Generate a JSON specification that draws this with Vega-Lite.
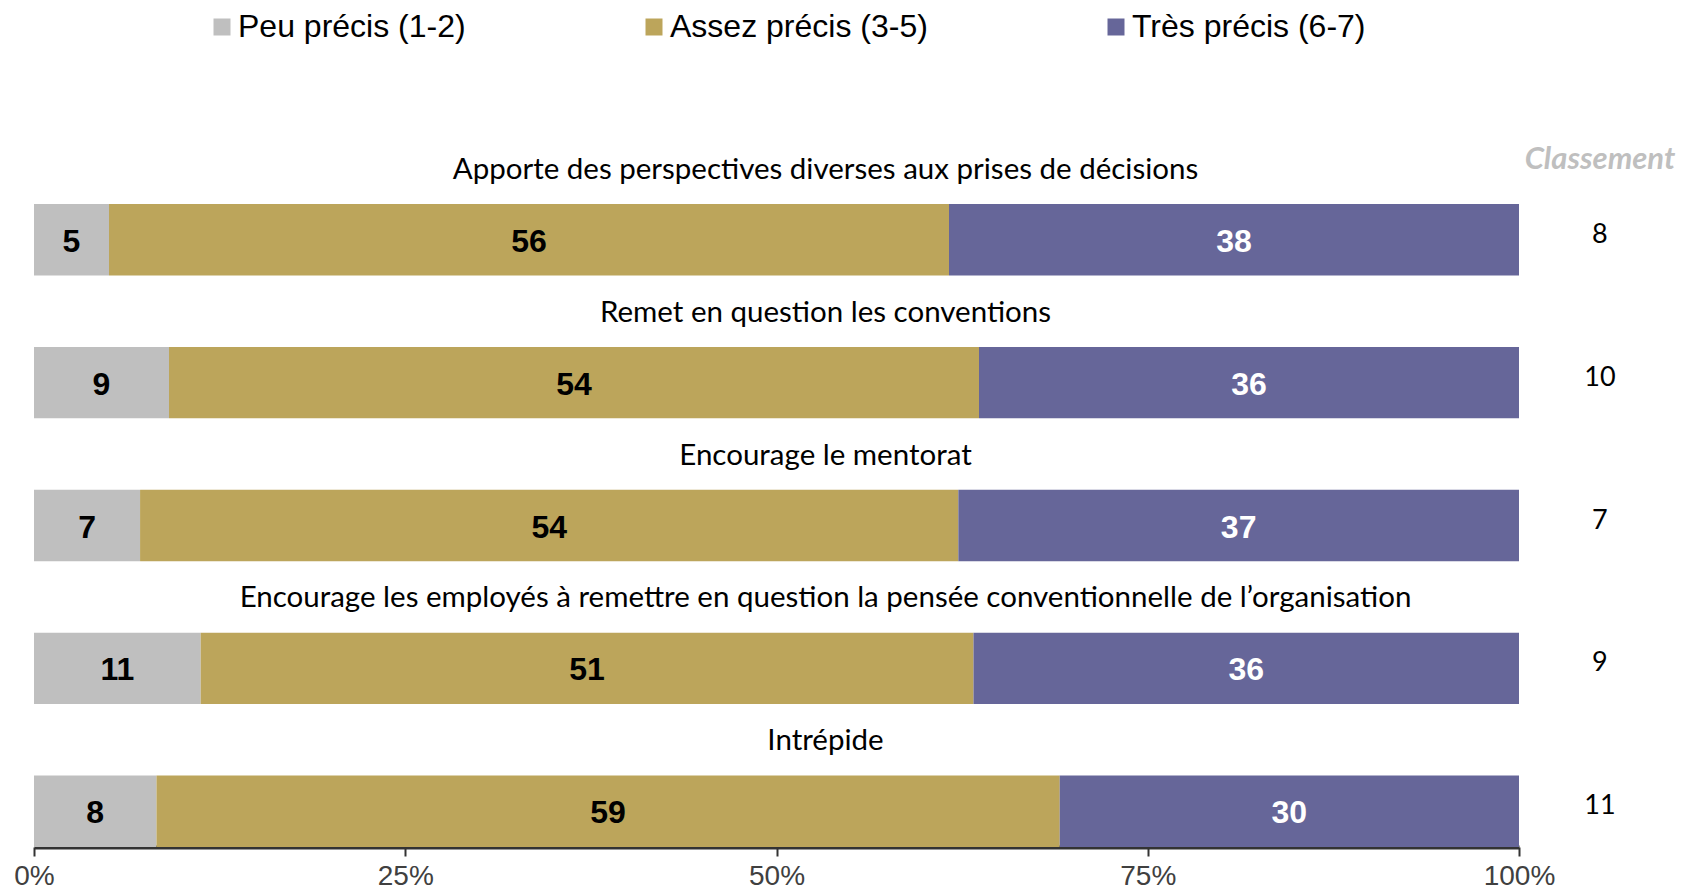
{
  "$schema": "https://vega.github.io/schema/vega-lite/v6.json",
  "width": 1485,
  "height": 643,
  "autosize": {"type": "none"},
  "padding": {"left": 34, "top": 204, "right": 166, "bottom": 47},
  "background": "white",
  "config": {"view": {"stroke": null}},
  "datasets": {
    "reponses": [
      {"item": "Apporte des perspectives diverses aux prises de décisions", "niveau": "Peu précis (1-2)", "k": 1, "pct": 5},
      {"item": "Apporte des perspectives diverses aux prises de décisions", "niveau": "Assez précis (3-5)", "k": 2, "pct": 56},
      {"item": "Apporte des perspectives diverses aux prises de décisions", "niveau": "Très précis (6-7)", "k": 3, "pct": 38},
      {"item": "Remet en question les conventions", "niveau": "Peu précis (1-2)", "k": 1, "pct": 9},
      {"item": "Remet en question les conventions", "niveau": "Assez précis (3-5)", "k": 2, "pct": 54},
      {"item": "Remet en question les conventions", "niveau": "Très précis (6-7)", "k": 3, "pct": 36},
      {"item": "Encourage le mentorat", "niveau": "Peu précis (1-2)", "k": 1, "pct": 7},
      {"item": "Encourage le mentorat", "niveau": "Assez précis (3-5)", "k": 2, "pct": 54},
      {"item": "Encourage le mentorat", "niveau": "Très précis (6-7)", "k": 3, "pct": 37},
      {"item": "Encourage les employés à remettre en question la pensée conventionnelle de l’organisation", "niveau": "Peu précis (1-2)", "k": 1, "pct": 11},
      {"item": "Encourage les employés à remettre en question la pensée conventionnelle de l’organisation", "niveau": "Assez précis (3-5)", "k": 2, "pct": 51},
      {"item": "Encourage les employés à remettre en question la pensée conventionnelle de l’organisation", "niveau": "Très précis (6-7)", "k": 3, "pct": 36},
      {"item": "Intrépide", "niveau": "Peu précis (1-2)", "k": 1, "pct": 8},
      {"item": "Intrépide", "niveau": "Assez précis (3-5)", "k": 2, "pct": 59},
      {"item": "Intrépide", "niveau": "Très précis (6-7)", "k": 3, "pct": 30}
    ],
    "classement": [
      {"item": "Apporte des perspectives diverses aux prises de décisions", "rang": 8},
      {"item": "Remet en question les conventions", "rang": 10},
      {"item": "Encourage le mentorat", "rang": 7},
      {"item": "Encourage les employés à remettre en question la pensée conventionnelle de l’organisation", "rang": 9},
      {"item": "Intrépide", "rang": 11}
    ]
  },
  "layer": [
    {
      "data": {"name": "reponses"},
      "mark": {"type": "bar"},
      "encoding": {
        "y": {
          "field": "item",
          "type": "nominal",
          "axis": null,
          "scale": {
            "domain": [
              "Apporte des perspectives diverses aux prises de décisions",
              "Remet en question les conventions",
              "Encourage le mentorat",
              "Encourage les employés à remettre en question la pensée conventionnelle de l’organisation",
              "Intrépide"
            ],
            "paddingInner": 0.5,
            "paddingOuter": 0
          }
        },
        "x": {
          "field": "pct",
          "type": "quantitative",
          "stack": "normalize",
          "scale": {"domain": [0, 1], "nice": false},
          "axis": {
            "format": ".0%",
            "values": [0, 0.25, 0.5, 0.75, 1],
            "grid": false,
            "title": null,
            "labelFlush": false,
            "domainColor": "#333333",
            "domainWidth": 4,
            "tickColor": "#333333",
            "tickWidth": 2,
            "tickSize": 9,
            "labelFont": "Liberation Sans",
            "labelFontSize": 28,
            "labelColor": "#404040",
            "labelPadding": 6
          }
        },
        "order": {"field": "k", "type": "quantitative"},
        "color": {
          "field": "niveau",
          "type": "nominal",
          "scale": {
            "domain": ["Peu précis (1-2)", "Assez précis (3-5)", "Très précis (6-7)"],
            "range": ["#bfbfbf", "#bca55b", "#666699"]
          },
          "legend": {
            "orient": "none",
            "legendX": 172,
            "legendY": -193,
            "direction": "horizontal",
            "title": null,
            "padding": 0,
            "symbolType": "square",
            "symbolSize": 289,
            "symbolStrokeWidth": 0,
            "labelFont": "Liberation Sans",
            "labelFontSize": 32,
            "labelColor": "#000000",
            "labelOffset": 0,
            "columnPadding": 172,
            "labelLimit": 400
          }
        }
      }
    },
    {
      "data": {"name": "reponses"},
      "mark": {"type": "text", "font": "Liberation Sans", "fontWeight": "bold", "fontSize": 32, "baseline": "middle", "align": "center", "dy": 2},
      "encoding": {
        "y": {"field": "item", "type": "nominal"},
        "x": {"field": "pct", "type": "quantitative", "stack": "normalize", "bandPosition": 0.5},
        "order": {"field": "k", "type": "quantitative"},
        "text": {"field": "pct", "type": "quantitative"},
        "color": {"condition": {"test": "datum.k == 3", "value": "#ffffff"}, "value": "#000000"}
      }
    },
    {
      "data": {"name": "classement"},
      "mark": {"type": "text", "font": "Lato", "fontSize": 29.5, "baseline": "middle", "align": "center", "dy": -70, "color": "#000000"},
      "encoding": {
        "y": {"field": "item", "type": "nominal"},
        "x": {"datum": 0.533, "type": "quantitative"},
        "text": {"field": "item", "type": "nominal"}
      }
    },
    {
      "data": {"name": "classement"},
      "mark": {"type": "text", "font": "Lato", "fontSize": 27, "baseline": "middle", "align": "center", "dy": -5, "color": "#000000"},
      "encoding": {
        "y": {"field": "item", "type": "nominal"},
        "x": {"datum": 1.0545, "type": "quantitative"},
        "text": {"field": "rang", "type": "quantitative"}
      }
    },
    {
      "data": {"values": [{"t": "Classement"}]},
      "mark": {"type": "text", "font": "Lato", "fontSize": 31, "fontWeight": "bold", "fontStyle": "italic", "baseline": "middle", "align": "center", "dy": -80, "color": "#bfbfbf"},
      "encoding": {
        "y": {"datum": "Apporte des perspectives diverses aux prises de décisions", "type": "nominal"},
        "x": {"datum": 1.0545, "type": "quantitative"},
        "text": {"field": "t", "type": "nominal"}
      }
    }
  ]
}
